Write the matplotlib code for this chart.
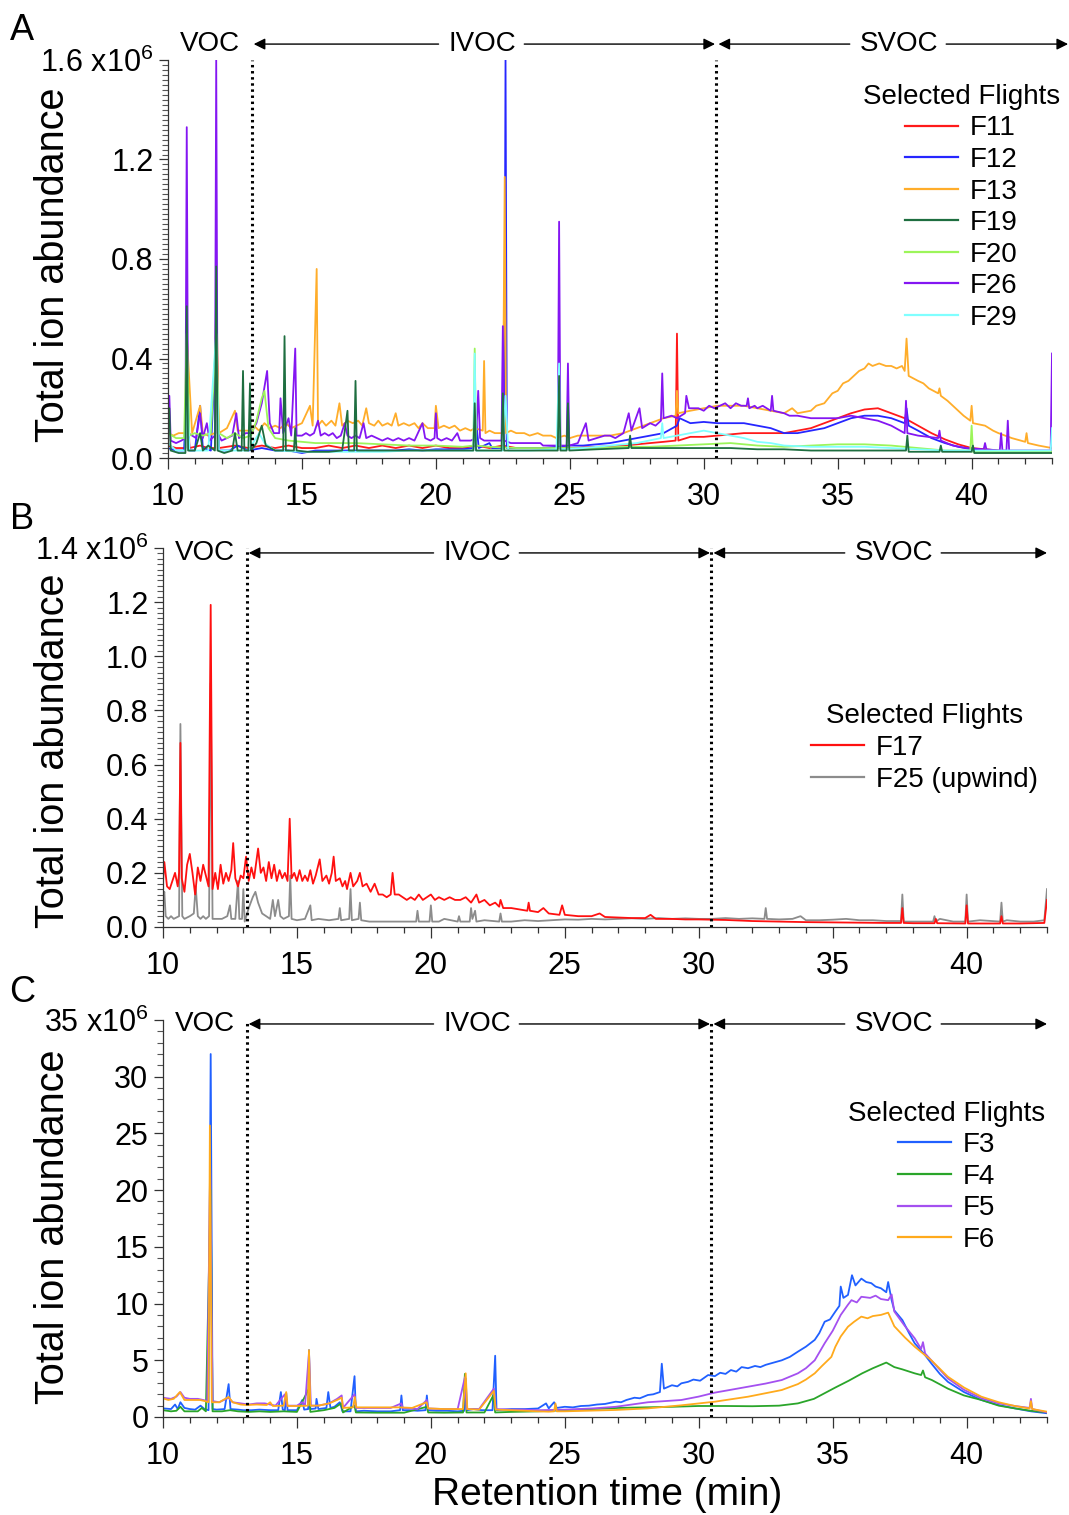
import numpy as np
import matplotlib
matplotlib.use("Agg")
import matplotlib.pyplot as plt
from matplotlib.ticker import MultipleLocator, FixedLocator, FixedFormatter

plt.rcParams['font.family'] = ['Liberation Sans', 'DejaVu Sans']
plt.rcParams['mathtext.fontset'] = 'custom'
plt.rcParams['mathtext.rm'] = 'Liberation Sans'

# ---- Panel A: (retention time [min], abundance [x1e6]) ----
F11_A = [(10.0,0.05),(10.3,0.04),(10.65,0.04),(10.7,0.4),(10.8,0.04),(11.2,0.05),(11.5,0.04),(11.75,0.04),(11.8,0.6),(11.9,0.04),
         (12.5,0.05),(13.0,0.04),(13.5,0.05),(14.0,0.04),(14.5,0.05),(15.0,0.04),(15.5,0.04),(16.0,0.05),(16.5,0.04),(17.0,0.05),
         (17.5,0.04),(18.0,0.05),(18.5,0.04),(19.0,0.05),(19.5,0.04),(20.0,0.05),(20.5,0.04),(21.0,0.04),(21.5,0.05),(22.0,0.04),
         (22.5,0.05),(23.0,0.04),(24.0,0.04),(25.0,0.04),(26.0,0.045),(27.0,0.05),(28.0,0.06),(28.5,0.065),(28.95,0.07),(29.0,0.5),
         (29.05,0.07),(29.5,0.085),(30.0,0.085),(30.5,0.09),(31.0,0.095),(31.5,0.1),(32.0,0.1),(32.5,0.1),(33.0,0.1),(33.5,0.11),
         (34.0,0.12),(34.5,0.14),(35.0,0.16),(35.5,0.18),(36.0,0.195),(36.5,0.2),(37.0,0.18),(37.5,0.16),(38.0,0.13),(38.5,0.1),
         (39.0,0.075),(39.5,0.055),(40.0,0.04),(40.5,0.035),(41.0,0.03),(42.0,0.025),(43.0,0.025)]
F12_A = [(10.0,0.04),(10.3,0.03),(10.6,0.03),(10.7,0.3),(10.8,0.03),(11.0,0.03),(11.2,0.21),(11.3,0.04),(11.6,0.03),(11.8,0.5),
         (11.9,0.03),(12.3,0.03),(12.6,0.05),(13.0,0.03),(13.5,0.04),(14.0,0.03),(14.5,0.03),(15.0,0.02),(15.5,0.03),(16.0,0.03),
         (16.5,0.03),(17.0,0.03),(17.5,0.03),(18.0,0.03),(18.5,0.03),(19.0,0.035),(19.5,0.03),(20.0,0.035),(20.5,0.035),(21.0,0.035),
         (21.4,0.04),(21.5,0.15),(21.6,0.04),(22.0,0.06),(22.1,0.04),(22.55,0.04),(22.6,1.6),(22.65,0.04),(23.0,0.04),(23.5,0.04),
         (24.0,0.04),(24.5,0.045),(25.0,0.05),(25.5,0.05),(26.0,0.055),(26.5,0.06),(27.0,0.07),(27.5,0.08),(28.0,0.09),(28.5,0.1),
         (29.0,0.13),(29.1,0.16),(29.5,0.14),(30.0,0.145),(30.5,0.14),(31.0,0.14),(31.5,0.14),(32.0,0.13),(32.5,0.12),(33.0,0.1),
         (33.5,0.1),(34.0,0.11),(34.5,0.12),(35.0,0.14),(35.5,0.16),(36.0,0.17),(36.5,0.17),(37.0,0.16),(37.5,0.14),(37.57,0.2),
         (37.65,0.13),(38.0,0.11),(38.5,0.08),(39.0,0.06),(39.5,0.045),(40.0,0.035),(40.5,0.03),(41.0,0.025),(42.0,0.025),(43.0,0.025)]
F13_A = [(10.0,0.1),(10.2,0.09),(10.4,0.1),(10.65,0.1),(10.7,0.5),(10.9,0.1),(11.2,0.21),(11.3,0.1),(11.5,0.09),(11.75,0.1),
         (11.8,0.7),(11.9,0.1),(12.2,0.12),(12.5,0.19),(12.6,0.11),(13.0,0.11),(13.2,0.13),(13.4,0.11),(13.6,0.14),(13.8,0.12),
         (14.0,0.13),(14.2,0.12),(14.4,0.14),(14.6,0.12),(14.8,0.13),(15.0,0.14),(15.3,0.21),(15.4,0.13),(15.55,0.76),(15.6,0.13),
         (15.75,0.15),(15.9,0.13),(16.1,0.15),(16.25,0.13),(16.4,0.22),(16.5,0.13),(16.7,0.15),(16.9,0.14),(17.1,0.15),(17.25,0.13),
         (17.4,0.2),(17.5,0.14),(17.7,0.13),(17.85,0.15),(18.0,0.13),(18.2,0.14),(18.35,0.13),(18.5,0.18),(18.6,0.13),(18.8,0.14),
         (19.0,0.13),(19.2,0.14),(19.35,0.12),(19.5,0.14),(19.7,0.12),(19.95,0.12),(20.0,0.21),(20.1,0.12),(20.3,0.13),(20.5,0.12),
         (20.7,0.13),(20.9,0.11),(21.1,0.12),(21.3,0.11),(21.45,0.12),(21.75,0.11),(21.8,0.39),(21.85,0.1),(22.0,0.11),(22.2,0.1),
         (22.5,0.1),(22.57,1.13),(22.62,0.1),(22.8,0.11),(23.0,0.1),(23.3,0.1),(23.5,0.09),(23.8,0.1),(24.0,0.09),(24.3,0.09),
         (24.5,0.08),(24.8,0.09),(25.0,0.08),(25.3,0.09),(25.5,0.09),(26.0,0.09),(26.5,0.09),(27.0,0.1),(27.5,0.12),(28.0,0.14),
         (28.5,0.16),(28.95,0.17),(29.0,0.27),(29.05,0.18),(29.5,0.19),(30.0,0.2),(30.5,0.21),(31.0,0.21),(31.5,0.21),(32.0,0.2),
         (32.5,0.19),(33.0,0.18),(33.3,0.2),(33.5,0.18),(34.0,0.19),(34.2,0.21),(34.5,0.22),(34.8,0.26),(35.0,0.27),(35.2,0.3),
         (35.4,0.31),(35.6,0.33),(35.8,0.35),(36.0,0.36),(36.15,0.38),(36.3,0.37),(36.55,0.38),(36.8,0.37),(37.0,0.37),(37.2,0.36),
         (37.4,0.37),(37.5,0.35),(37.57,0.48),(37.65,0.33),(38.0,0.31),(38.2,0.3),(38.4,0.28),(38.75,0.26),(38.8,0.28),(38.85,0.25),
         (39.1,0.23),(39.3,0.21),(39.5,0.19),(39.7,0.17),(39.95,0.15),(40.0,0.21),(40.05,0.14),(40.5,0.13),(40.8,0.11),(41.0,0.1),
         (41.5,0.08),(42.0,0.065),(42.05,0.1),(42.1,0.06),(42.5,0.05),(43.0,0.04)]
F19_A = [(10.0,0.12),(10.05,0.2),(10.1,0.03),(10.4,0.02),(10.65,0.02),(10.7,0.61),(10.75,0.03),(11.0,0.03),(11.2,0.1),(11.3,0.03),
         (11.5,0.05),(11.75,0.03),(11.8,0.77),(11.85,0.03),(12.1,0.02),(12.4,0.03),(12.5,0.1),(12.6,0.03),(12.75,0.03),(12.8,0.35),
         (12.85,0.03),(13.0,0.03),(13.06,0.3),(13.1,0.03),(13.3,0.06),(13.5,0.13),(13.65,0.05),(14.0,0.03),(14.3,0.03),(14.35,0.49),
         (14.4,0.03),(14.7,0.03),(14.75,0.12),(14.8,0.03),(15.2,0.025),(15.5,0.025),(16.0,0.025),(16.5,0.03),(16.7,0.19),(16.75,0.03),
         (16.95,0.03),(17.0,0.31),(17.05,0.03),(17.5,0.03),(18.0,0.03),(19.0,0.03),(20.0,0.03),(21.0,0.03),(21.4,0.03),(21.45,0.22),
         (21.5,0.03),(22.45,0.03),(22.5,0.26),(22.55,0.03),(23.5,0.03),(24.55,0.03),(24.6,0.33),(24.65,0.03),(24.88,0.03),(24.93,0.22),
         (24.98,0.03),(26.0,0.035),(27.2,0.04),(27.25,0.09),(27.3,0.04),(28.0,0.04),(29.0,0.04),(30.0,0.04),(31.0,0.04),(32.0,0.035),
         (33.0,0.035),(34.0,0.03),(35.0,0.03),(36.0,0.03),(37.0,0.03),(37.55,0.03),(37.6,0.09),(37.65,0.025),(38.0,0.025),(38.8,0.025),
         (38.85,0.05),(38.9,0.025),(40.0,0.025),(40.05,0.05),(40.1,0.02),(41.0,0.02),(42.0,0.02),(43.0,0.02)]
F20_A = [(10.0,0.1),(10.3,0.08),(10.6,0.08),(10.7,0.5),(10.8,0.09),(11.0,0.1),(11.3,0.09),(11.6,0.1),(11.8,0.5),(11.9,0.1),
         (12.2,0.08),(12.5,0.1),(12.8,0.08),(13.1,0.09),(13.3,0.15),(13.5,0.24),(13.6,0.27),(13.75,0.12),(14.0,0.08),(14.5,0.07),
         (15.0,0.065),(15.5,0.06),(16.0,0.06),(17.0,0.06),(18.0,0.055),(19.0,0.05),(20.0,0.05),(21.0,0.045),(21.4,0.05),(21.45,0.44),
         (21.5,0.05),(22.0,0.045),(23.0,0.04),(24.0,0.04),(25.0,0.04),(26.0,0.04),(27.0,0.045),(28.0,0.045),(29.0,0.05),(30.0,0.055),
         (31.0,0.06),(32.0,0.05),(33.0,0.045),(34.0,0.05),(35.0,0.055),(36.0,0.055),(37.0,0.05),(38.0,0.04),(39.0,0.03),(39.95,0.03),
         (40.0,0.13),(40.05,0.025),(41.0,0.025),(42.0,0.025),(43.0,0.025)]
F26_A = [(10.0,0.08),(10.05,0.25),(10.1,0.07),(10.3,0.06),(10.5,0.07),(10.65,0.08),(10.7,1.33),(10.75,0.1),(10.9,0.09),(11.05,0.08),
         (11.2,0.18),(11.3,0.08),(11.45,0.14),(11.55,0.07),(11.75,0.09),(11.8,1.6),(11.85,0.1),(12.0,0.07),(12.2,0.08),(12.4,0.09),
         (12.55,0.18),(12.65,0.08),(12.9,0.1),(13.1,0.1),(13.3,0.14),(13.5,0.22),(13.7,0.35),(13.8,0.14),(13.95,0.1),(14.15,0.1),
         (14.2,0.24),(14.3,0.1),(14.5,0.16),(14.6,0.09),(14.75,0.44),(14.8,0.09),(15.0,0.09),(15.15,0.1),(15.3,0.09),(15.45,0.1),
         (15.6,0.15),(15.7,0.09),(15.85,0.1),(16.0,0.09),(16.15,0.1),(16.3,0.08),(16.45,0.09),(16.6,0.14),(16.7,0.09),(16.85,0.08),
         (17.0,0.09),(17.15,0.08),(17.3,0.14),(17.4,0.08),(17.6,0.09),(17.8,0.08),(18.0,0.07),(18.2,0.08),(18.4,0.07),(18.6,0.08),
         (18.8,0.07),(19.0,0.08),(19.2,0.07),(19.5,0.14),(19.6,0.08),(19.8,0.07),(19.95,0.08),(20.0,0.18),(20.05,0.08),(20.2,0.07),
         (20.4,0.08),(20.6,0.07),(20.8,0.1),(20.9,0.07),(21.1,0.07),(21.3,0.07),(21.5,0.08),(21.58,0.27),(21.65,0.08),(21.8,0.07),
         (22.0,0.07),(22.2,0.07),(22.45,0.07),(22.5,0.53),(22.55,0.07),(22.8,0.06),(23.0,0.06),(23.5,0.06),(23.9,0.06),(24.0,0.05),
         (24.3,0.05),(24.55,0.05),(24.6,0.95),(24.65,0.05),(24.88,0.05),(24.93,0.38),(24.98,0.05),(25.3,0.06),(25.6,0.14),(25.7,0.07),
         (26.0,0.08),(26.3,0.09),(26.5,0.09),(26.7,0.08),(27.0,0.1),(27.2,0.18),(27.3,0.11),(27.6,0.2),(27.7,0.12),(28.0,0.14),
         (28.2,0.13),(28.4,0.15),(28.45,0.34),(28.5,0.16),(28.8,0.17),(29.0,0.16),(29.3,0.18),(29.35,0.25),(29.45,0.2),(29.8,0.2),
         (30.0,0.19),(30.2,0.21),(30.4,0.2),(30.6,0.21),(30.8,0.22),(31.0,0.2),(31.2,0.22),(31.4,0.21),(31.6,0.21),(31.65,0.24),
         (31.7,0.2),(31.9,0.21),(32.0,0.2),(32.2,0.21),(32.5,0.19),(32.55,0.25),(32.6,0.19),(33.0,0.18),(33.2,0.17),(33.5,0.17),
         (34.0,0.16),(34.5,0.16),(35.0,0.16),(35.5,0.17),(36.0,0.16),(36.5,0.15),(37.0,0.13),(37.5,0.1),(37.55,0.23),(37.6,0.1),
         (38.0,0.09),(38.75,0.08),(38.8,0.11),(38.85,0.07),(39.3,0.05),(39.8,0.04),(40.45,0.035),(40.5,0.06),(40.55,0.035),(41.05,0.03),
         (41.1,0.1),(41.15,0.03),(41.3,0.03),(41.35,0.15),(41.4,0.03),(42.0,0.03),(42.5,0.03),(42.95,0.03),(43.0,0.42)]
F29_A = [(10.0,0.06),(10.3,0.03),(10.65,0.03),(10.7,0.3),(10.8,0.03),(11.5,0.03),(11.8,0.5),(11.9,0.03),(12.5,0.03),(13.0,0.03),
         (13.4,0.1),(13.6,0.06),(14.0,0.03),(15.0,0.025),(16.0,0.025),(17.0,0.025),(18.0,0.025),(19.0,0.03),(20.0,0.03),(21.0,0.03),
         (21.4,0.03),(21.45,0.42),(21.5,0.03),(22.5,0.03),(22.6,0.25),(22.7,0.03),(23.5,0.03),(24.5,0.035),(24.6,0.38),(24.65,0.035),
         (25.5,0.04),(26.5,0.05),(27.5,0.06),(28.4,0.08),(28.45,0.14),(28.5,0.08),(29.0,0.09),(29.5,0.1),(30.0,0.11),(30.5,0.1),
         (31.0,0.09),(31.5,0.08),(32.0,0.065),(32.5,0.06),(33.0,0.05),(34.0,0.045),(35.0,0.045),(36.0,0.045),(37.0,0.04),(38.0,0.035),
         (39.0,0.03),(40.0,0.03),(41.0,0.03),(42.0,0.03),(42.95,0.03),(43.0,0.12)]

# ---- Panel B ----
F17_B = [(10.0,0.17),(10.05,0.24),(10.15,0.15),(10.25,0.14),(10.35,0.17),(10.45,0.2),(10.55,0.15),(10.6,0.2),(10.65,0.68),(10.7,0.18),
         (10.8,0.13),(10.9,0.23),(11.0,0.27),(11.1,0.2),(11.2,0.12),(11.3,0.22),(11.4,0.17),(11.5,0.23),(11.6,0.19),(11.7,0.15),
         (11.78,1.19),(11.85,0.14),(11.95,0.2),(12.05,0.14),(12.15,0.23),(12.25,0.16),(12.35,0.2),(12.45,0.17),(12.55,0.21),(12.62,0.31),
         (12.7,0.18),(12.8,0.15),(12.9,0.19),(13.0,0.18),(13.1,0.26),(13.2,0.17),(13.3,0.22),(13.4,0.18),(13.55,0.29),(13.65,0.2),
         (13.75,0.22),(13.85,0.17),(13.95,0.24),(14.05,0.18),(14.15,0.23),(14.25,0.17),(14.35,0.21),(14.45,0.18),(14.55,0.2),(14.65,0.17),
         (14.73,0.4),(14.8,0.18),(14.9,0.2),(15.0,0.17),(15.1,0.21),(15.2,0.17),(15.3,0.19),(15.4,0.17),(15.5,0.21),(15.6,0.16),
         (15.7,0.19),(15.85,0.25),(15.95,0.17),(16.1,0.19),(16.2,0.16),(16.3,0.2),(16.37,0.26),(16.45,0.17),(16.6,0.18),(16.7,0.15),
         (16.8,0.17),(16.87,0.14),(17.0,0.2),(17.1,0.15),(17.25,0.17),(17.35,0.2),(17.45,0.15),(17.6,0.16),(17.75,0.13),(17.9,0.16),
         (18.05,0.12),(18.2,0.12),(18.35,0.11),(18.5,0.12),(18.57,0.2),(18.65,0.12),(18.8,0.12),(18.95,0.11),(19.1,0.1),(19.25,0.11),
         (19.4,0.1),(19.55,0.12),(19.7,0.1),(19.85,0.11),(20.0,0.12),(20.15,0.1),(20.3,0.11),(20.5,0.1),(20.7,0.11),(20.9,0.1),
         (21.1,0.1),(21.3,0.11),(21.5,0.09),(21.7,0.12),(21.8,0.09),(22.0,0.1),(22.2,0.08),(22.4,0.09),(22.55,0.075),(22.6,0.1),
         (22.7,0.07),(23.0,0.07),(23.3,0.065),(23.6,0.06),(23.65,0.09),(23.7,0.06),(24.0,0.055),(24.2,0.07),(24.4,0.05),(24.8,0.045),
         (24.9,0.08),(25.0,0.045),(25.5,0.04),(26.0,0.04),(26.3,0.05),(26.5,0.037),(27.0,0.035),(27.5,0.033),(28.0,0.033),(28.2,0.045),
         (28.4,0.03),(29.0,0.03),(29.5,0.028),(30.0,0.028),(30.5,0.027),(31.0,0.026),(31.5,0.024),(32.0,0.022),(33.0,0.02),(34.0,0.018),
         (35.0,0.017),(36.0,0.016),(37.0,0.015),(37.55,0.015),(37.6,0.07),(37.65,0.015),(38.0,0.014),(38.8,0.014),(38.85,0.03),(38.9,0.014),
         (39.95,0.013),(40.0,0.08),(40.05,0.013),(41.25,0.013),(41.3,0.04),(41.35,0.013),(42.0,0.013),(42.9,0.015),(43.0,0.1)]
F25_B = [(10.0,0.1),(10.05,0.13),(10.1,0.04),(10.2,0.03),(10.3,0.04),(10.4,0.03),(10.6,0.04),(10.65,0.75),(10.72,0.04),(10.8,0.03),
         (11.0,0.04),(11.15,0.05),(11.22,0.15),(11.3,0.04),(11.4,0.03),(11.5,0.04),(11.6,0.03),(11.72,0.04),(11.78,0.9),(11.85,0.03),
         (12.0,0.03),(12.2,0.03),(12.4,0.04),(12.5,0.08),(12.55,0.03),(12.7,0.03),(12.8,0.17),(12.85,0.03),(12.95,0.03),(13.0,0.14),
         (13.05,0.02),(13.2,0.07),(13.35,0.11),(13.45,0.13),(13.55,0.09),(13.7,0.05),(13.85,0.04),(14.0,0.03),(14.1,0.1),(14.18,0.04),
         (14.3,0.1),(14.38,0.04),(14.5,0.03),(14.7,0.04),(14.75,0.19),(14.8,0.03),(15.0,0.025),(15.3,0.03),(15.5,0.08),(15.55,0.025),
         (15.8,0.03),(16.2,0.025),(16.55,0.03),(16.6,0.07),(16.65,0.025),(16.95,0.03),(17.0,0.14),(17.05,0.025),(17.3,0.03),(17.35,0.09),
         (17.4,0.025),(17.7,0.02),(18.0,0.02),(18.5,0.02),(19.0,0.02),(19.45,0.02),(19.5,0.06),(19.55,0.02),(19.95,0.02),(20.0,0.08),
         (20.05,0.02),(20.3,0.02),(20.5,0.03),(21.0,0.02),(21.05,0.04),(21.1,0.02),(21.45,0.02),(21.5,0.07),(21.55,0.03),(21.65,0.06),
         (21.7,0.02),(22.0,0.025),(22.55,0.02),(22.6,0.05),(22.65,0.02),(23.0,0.02),(23.5,0.025),(24.0,0.022),(24.5,0.025),(25.0,0.028),
         (25.5,0.027),(26.0,0.03),(26.5,0.028),(27.0,0.03),(27.5,0.032),(28.0,0.03),(28.5,0.033),(29.0,0.03),(29.5,0.032),(30.0,0.03),
         (30.5,0.03),(31.0,0.033),(31.5,0.03),(32.0,0.032),(32.45,0.03),(32.5,0.07),(32.55,0.03),(33.0,0.028),(33.5,0.03),(33.8,0.04),
         (34.0,0.025),(34.5,0.025),(35.0,0.027),(35.5,0.03),(36.0,0.025),(36.5,0.025),(37.0,0.022),(37.55,0.022),(37.6,0.12),(37.65,0.02),
         (38.0,0.02),(38.75,0.02),(38.8,0.04),(38.85,0.02),(39.0,0.03),(39.5,0.02),(39.95,0.02),(40.0,0.12),(40.05,0.02),(40.5,0.025),
         (41.25,0.02),(41.3,0.09),(41.35,0.02),(41.5,0.025),(42.0,0.02),(42.5,0.02),(42.9,0.025),(43.0,0.14)]

# ---- Panel C ----
F3_C = [(10.0,0.76),(10.3,0.7),(10.45,1.1),(10.55,0.7),(10.65,1.3),(10.8,0.8),(11.0,0.7),(11.2,0.65),(11.4,1.0),(11.55,0.7),
        (11.7,0.6),(11.78,32.0),(11.85,0.7),(12.0,0.65),(12.3,0.7),(12.45,2.9),(12.52,0.7),(12.8,0.65),(13.0,0.6),(13.3,0.6),
        (13.6,0.65),(14.0,0.6),(14.3,0.6),(14.4,2.2),(14.47,0.65),(14.55,0.6),(14.6,2.1),(14.65,0.6),(15.0,0.6),(15.2,1.5),
        (15.27,0.65),(15.42,0.7),(15.45,5.9),(15.5,0.7),(15.7,0.75),(15.73,1.6),(15.8,0.7),(16.1,0.8),(16.17,2.2),(16.25,0.8),
        (16.4,0.9),(16.6,1.3),(16.7,0.5),(17.0,0.5),(17.15,3.6),(17.2,0.5),(17.5,0.55),(18.0,0.5),(18.5,0.5),(18.85,0.6),
        (18.9,1.9),(18.95,0.6),(19.2,0.6),(19.5,0.55),(19.8,0.6),(19.85,1.9),(19.9,0.6),(20.2,0.55),(20.6,0.55),(21.0,0.5),
        (21.25,0.55),(21.3,3.4),(21.35,0.6),(21.6,0.7),(21.9,0.6),(22.3,0.6),(22.4,5.4),(22.45,0.6),(22.7,0.65),(23.0,0.7),
        (23.5,0.7),(24.0,0.75),(24.3,1.2),(24.4,0.76),(24.6,1.3),(24.7,0.8),(25.0,0.9),(25.3,0.85),(25.6,0.97),(25.9,1.0),
        (26.2,1.1),(26.5,1.15),(26.9,1.35),(27.1,1.3),(27.3,1.5),(27.6,1.7),(27.8,1.65),(28.1,1.94),(28.3,2.0),(28.55,2.2),
        (28.62,4.7),(28.7,2.5),(29.0,2.8),(29.2,2.7),(29.35,2.97),(29.6,3.1),(29.8,3.3),(30.05,3.2),(30.35,3.7),(30.6,3.6),
        (30.8,3.9),(31.0,3.8),(31.2,4.14),(31.4,4.0),(31.6,4.4),(31.84,4.3),(32.1,4.5),(32.3,4.4),(32.5,4.6),(32.8,4.8),
        (33.1,5.0),(33.4,5.3),(33.7,5.76),(34.0,6.2),(34.33,6.8),(34.5,7.4),(34.7,8.4),(34.9,8.6),(35.1,9.3),(35.25,9.8),
        (35.3,11.5),(35.4,10.5),(35.57,10.76),(35.72,12.5),(35.85,11.6),(36.07,12.2),(36.25,11.9),(36.44,11.8),(36.6,11.5),(36.8,11.35),
        (37.0,11.0),(37.07,11.9),(37.2,10.3),(37.3,9.4),(37.6,8.55),(37.85,7.4),(38.06,6.5),(38.4,5.6),(38.68,4.73),(39.0,3.8),
        (39.3,3.1),(39.9,2.2),(40.55,1.5),(41.2,1.05),(41.8,0.76),(42.4,0.5),(43.0,0.33)]
F4_C = [(10.0,0.6),(10.3,0.5),(10.5,0.55),(10.65,0.9),(10.8,0.5),(11.0,0.5),(11.3,0.5),(11.45,0.8),(11.6,0.5),(11.78,20.0),
        (11.85,0.5),(12.2,0.5),(12.5,0.6),(12.8,0.5),(13.2,0.45),(13.6,0.5),(14.0,0.45),(14.5,0.5),(15.0,0.45),(15.45,2.5),
        (15.5,0.45),(16.0,0.6),(16.4,0.8),(16.65,1.2),(16.72,0.4),(17.15,1.0),(17.2,0.4),(18.0,0.38),(19.0,0.38),(19.85,0.9),
        (19.9,0.4),(20.5,0.38),(21.2,0.4),(21.27,3.8),(21.33,0.4),(22.0,0.4),(22.33,1.9),(22.4,0.4),(23.0,0.45),(24.0,0.5),
        (25.0,0.6),(26.0,0.7),(27.0,0.8),(28.0,0.85),(29.0,0.9),(30.0,0.97),(31.0,0.97),(32.0,0.95),(33.0,1.0),(33.7,1.2),
        (34.3,1.6),(34.7,2.1),(35.1,2.6),(35.6,3.2),(36.1,3.85),(36.5,4.3),(36.9,4.7),(37.0,4.8),(37.3,4.4),(37.6,4.2),
        (38.06,3.85),(38.3,3.7),(38.37,4.1),(38.45,3.5),(38.7,3.26),(39.3,2.5),(39.9,1.9),(40.55,1.5),(41.2,1.0),(41.8,0.76),
        (42.4,0.55),(43.0,0.4)]
F5_C = [(10.0,1.7),(10.3,1.6),(10.5,1.8),(10.65,2.2),(10.8,1.7),(11.0,1.6),(11.3,1.6),(11.5,1.5),(11.65,1.4),(11.76,22.0),
        (11.85,1.4),(12.1,1.3),(12.45,1.7),(12.6,1.3),(12.9,1.2),(13.2,1.1),(13.5,1.2),(13.8,1.2),(14.0,1.1),(14.2,1.0),
        (14.55,2.0),(14.62,1.0),(15.0,1.0),(15.2,1.3),(15.3,1.0),(15.45,5.7),(15.52,1.0),(15.8,1.0),(16.2,1.2),(16.5,1.6),
        (16.67,1.9),(16.72,0.8),(17.15,2.0),(17.2,0.8),(17.6,0.8),(18.0,0.8),(18.5,0.8),(18.9,1.2),(18.95,0.8),(19.5,0.7),
        (19.85,1.5),(19.9,0.75),(20.5,0.7),(21.0,0.7),(21.27,3.5),(21.33,0.7),(21.8,0.7),(22.35,2.5),(22.42,0.7),(23.0,0.65),
        (23.5,0.65),(24.0,0.6),(24.5,0.62),(25.0,0.65),(26.0,0.75),(26.9,0.9),(28.1,1.3),(29.35,1.5),(30.0,1.8),(30.6,2.15),
        (31.2,2.4),(31.84,2.67),(32.5,2.95),(33.1,3.26),(33.7,3.85),(34.0,4.3),(34.33,5.0),(34.7,6.5),(35.0,7.6),(35.3,9.0),
        (35.57,9.9),(35.7,10.3),(35.9,10.1),(36.07,10.6),(36.4,10.5),(36.6,10.7),(36.8,10.4),(37.07,10.3),(37.2,10.8),(37.3,9.3),
        (37.7,8.0),(38.06,6.94),(38.3,6.0),(38.37,6.6),(38.45,5.6),(38.68,5.0),(39.3,3.4),(39.9,2.4),(40.55,1.65),(41.2,1.2),
        (41.8,0.97),(42.35,0.8),(42.4,1.6),(42.45,0.7),(43.0,0.4)]
F6_C = [(10.0,1.64),(10.2,1.5),(10.4,1.6),(10.63,2.2),(10.8,1.5),(11.0,1.5),(11.38,1.5),(11.57,1.4),(11.7,1.3),(11.75,25.7),
        (11.82,1.3),(12.1,1.3),(12.45,1.77),(12.6,1.3),(12.9,1.1),(13.12,1.06),(13.5,1.1),(13.87,1.06),(14.0,1.3),(14.1,0.97),
        (14.5,1.0),(14.6,2.2),(14.65,0.97),(15.1,0.97),(15.41,1.0),(15.45,5.9),(15.5,1.0),(15.8,1.0),(16.2,1.2),(16.5,1.5),
        (16.67,1.7),(16.72,0.8),(17.1,0.85),(17.16,1.77),(17.22,0.85),(17.6,0.85),(18.2,0.85),(18.84,0.85),(19.3,0.8),(19.84,1.3),
        (19.9,0.76),(20.5,0.7),(21.2,0.7),(21.3,3.85),(21.36,0.7),(21.8,0.65),(22.35,2.3),(22.42,0.65),(23.0,0.6),(23.5,0.55),
        (24.0,0.5),(24.4,0.47),(24.6,0.5),(24.65,1.2),(24.7,0.5),(25.0,0.5),(26.9,0.62),(28.1,0.76),(29.35,1.03),(30.6,1.35),
        (31.84,1.79),(33.1,2.38),(33.7,2.9),(34.0,3.3),(34.33,3.85),(34.6,4.5),(34.95,5.3),(35.1,6.2),(35.3,7.1),(35.57,7.96),
        (35.8,8.4),(36.07,8.85),(36.3,8.7),(36.5,8.9),(36.8,9.0),(37.07,9.2),(37.3,8.0),(37.7,7.0),(38.06,6.2),(38.37,5.6),
        (38.68,5.0),(39.3,3.55),(39.9,2.6),(40.55,1.79),(41.2,1.3),(41.8,0.97),(42.35,0.75),(42.4,1.4),(42.45,0.7),(43.0,0.47)]

# drawing order (bottom -> top) and colours
A_series = [("F11", F11_A, "#ff1a1a"), ("F12", F12_A, "#2626ff"), ("F13", F13_A, "#ffad2a"),
            ("F26", F26_A, "#8416f2"), ("F20", F20_A, "#9cf55a"), ("F29", F29_A, "#80ffff"),
            ("F19", F19_A, "#1e6e40")]
A_legend_order = ["F11", "F12", "F13", "F19", "F20", "F26", "F29"]
B_series = [("F25 (upwind)", F25_B, "#8c8c8c"), ("F17", F17_B, "#ff1010")]
B_legend_order = ["F17", "F25 (upwind)"]
C_series = [("F3", F3_C, "#2060ff"), ("F4", F4_C, "#2aa52a"), ("F5", F5_C, "#a450f0"), ("F6", F6_C, "#ffaa1c")]
C_legend_order = ["F3", "F4", "F5", "F6"]

voc_bounds = [13.13, 30.45]

fig = plt.figure(figsize=(10.69, 15.15), dpi=100)
W, H = 1069, 1515
fw = 884 / W


def px_axes(left, top, bottom):
    return fig.add_axes([left / W, 1 - bottom / H, fw, (bottom - top) / H])


def style(ax, ymax, major, minor, fmt, top_lab, left_px, label_y):
    ax.set_xlim(10, 43)
    ax.set_ylim(0, ymax)
    for s in ("top", "right"):
        ax.spines[s].set_visible(False)
    for s in ("left", "bottom"):
        ax.spines[s].set_linewidth(0.9)
        ax.spines[s].set_color("#333333")
    ax.xaxis.set_major_locator(MultipleLocator(5))
    ax.xaxis.set_minor_locator(MultipleLocator(1))
    ticks = list(np.arange(0, ymax + major / 2, major))
    labs = [fmt.format(v) for v in ticks]
    labs[-1] = top_lab
    ax.yaxis.set_major_locator(FixedLocator(ticks))
    ax.yaxis.set_major_formatter(FixedFormatter(labs))
    ax.yaxis.set_minor_locator(MultipleLocator(minor))
    ax.tick_params(axis="x", which="major", length=8, width=0.9, labelsize=22, pad=9, color="#333333")
    ax.tick_params(axis="x", which="minor", length=4.5, width=0.9, color="#333333")
    ax.tick_params(axis="y", which="major", length=6.5, width=0.9, labelsize=22, pad=4, color="#333333")
    ax.tick_params(axis="y", which="minor", length=4, width=0.8, color="#555555")
    ax.set_ylabel("Total ion abundance", fontsize=28.5)
    ax.yaxis.set_label_coords((72 - left_px) / 884, label_y)


def regions(ax, ytxt, right_end):
    tr = ax.get_xaxis_transform()
    for xb in voc_bounds:
        ax.axvline(xb, color="k", lw=2.2, ls=(0, (0.8, 1.2)), zorder=5)
    for label, xc in (("VOC", 11.55), ("IVOC", 21.72), ("SVOC", 37.28)):
        ax.text(xc, ytxt, label, transform=tr, ha="center", va="center", fontsize=20, clip_on=False)
    arrows = [(20.1, 13.2), (23.3, 30.42), (35.45, 30.55), (39.05, right_end)]
    for x0, x1 in arrows:
        ax.annotate("", xy=(x1, ytxt), xytext=(x0, ytxt), xycoords=tr, textcoords=tr,
                    arrowprops=dict(arrowstyle="-|>", color="k", lw=1.0, mutation_scale=17,
                                    shrinkA=0, shrinkB=0), annotation_clip=False)


def draw(ax, series, order, anchor):
    handles = {}
    for name, pts, col in series:
        t, v = np.array(pts).T
        ln, = ax.plot(t, v, color=col, lw=1.3, label=name)
        handles[name] = ln
    leg = ax.legend([handles[n] for n in order], order, title="Selected Flights", loc="upper right",
                    bbox_to_anchor=anchor, frameon=False, fontsize=20, title_fontsize=20,
                    handlelength=1.9, handletextpad=0.45, labelspacing=0.2, borderpad=0, borderaxespad=0)
    for h in leg.legend_handles:
        h.set_linewidth(1.6)


axA = px_axes(168, 60, 458)
draw(axA, A_series, A_legend_order, (1.009, 0.94))
style(axA, 1.6, 0.4, 0.02, "{:.1f}", r"1.6 x10$^{6}$", 168, 0.485)
regions(axA, 1.04, 43.6)

axB = px_axes(163, 548, 927)
draw(axB, B_series, B_legend_order, (0.99, 0.59))
style(axB, 1.4, 0.2, 0.02, "{:.1f}", r"1.4 x10$^{6}$", 163, 0.465)
regions(axB, 0.987, 43.0)

axC = px_axes(163, 1020, 1417)
draw(axC, C_series, C_legend_order, (0.998, 0.797))
style(axC, 35, 5, 1, "{:.0f}", r"35 x10$^{6}$", 163, 0.48)
regions(axC, 0.99, 43.0)

for letter, y in (("A", 30), ("B", 520), ("C", 993)):
    fig.text(22 / W, 1 - y / H, letter, fontsize=26, ha="center", va="center")

fig.text(607 / W, 1 - 1495 / H, "Retention time (min)", fontsize=28, ha="center", va="center")

fig.savefig("out.png", dpi=100)
